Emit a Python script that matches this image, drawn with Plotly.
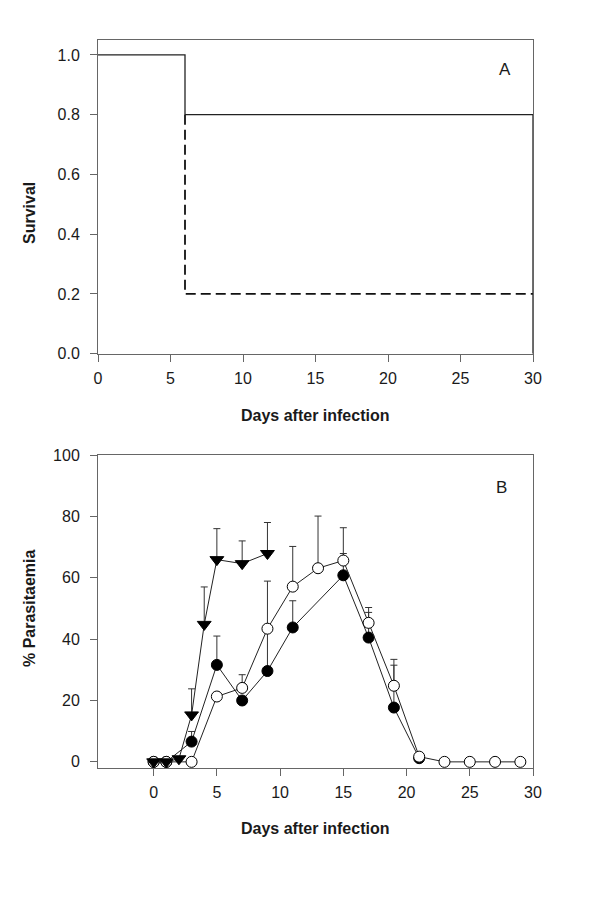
import plotly.graph_objects as go

# ---- Panel A: survival (Kaplan-Meier style steps)
surv_solid_x = [0, 6, 30, 30]
surv_solid_y = [1.0, 0.8, 0.8, 0.0]
surv_dash_x = [6, 6, 30]
surv_dash_y = [0.8, 0.2, 0.2]

# ---- Panel B: parasitaemia
tri_x = [0, 1, 2, 3, 4, 5, 7, 9]
tri_y = [0, 0, 1, 15.3, 44.8, 65.9, 64.6, 67.9]
tri_err = [None, None, None, 8.5, 12.2, 10.1, 7.4, 10.1]

filled_x = [0, 1, 3, 5, 7, 9, 11, 15, 17, 19, 21]
filled_y = [0, 0, 6.6, 31.6, 20.0, 29.6, 43.8, 60.8, 40.5, 17.7, 1.2]
filled_err = [None, None, 3.3, 9.4, None, 29.3, 8.7, 7.1, 8.2, 13.8, None]

open_x = [0, 1, 3, 5, 7, 9, 11, 13, 15, 17, 19, 21, 23, 25, 27, 29]
open_y = [0, 0, 0, 21.3, 24.1, 43.4, 57.1, 63.1, 65.6, 45.3, 24.8, 1.7, 0, 0, 0, 0]
open_err = [None, None, None, None, 4.3, None, 13.1, 17.0, 10.7, 5.0, 8.6, None, None, None, None, None]

x_ticks = [0, 5, 10, 15, 20, 25, 30]
ya_ticks = [0.0, 0.2, 0.4, 0.6, 0.8, 1.0]
yb_ticks = [0, 20, 40, 60, 80, 100]

FONT = "Liberation Sans, Arial, sans-serif"
AXC = "#666666"
TXT = "#1a1a1a"

def minus(errs):
    return [None if e is None else 0 for e in errs]

fig = go.Figure()

fig.add_trace(go.Scatter(x=surv_dash_x, y=surv_dash_y, mode="lines", line_shape="hv",
                         line=dict(color="#111111", width=1.8, dash="10px,5px"), xaxis="x", yaxis="y",
                         showlegend=False, hoverinfo="skip"))
fig.add_trace(go.Scatter(x=surv_solid_x, y=surv_solid_y, mode="lines", line_shape="hv",
                         line=dict(color="#222222", width=1.3), xaxis="x", yaxis="y",
                         showlegend=False, hoverinfo="skip"))

err_style = dict(type="data", symmetric=False, color="#333333", thickness=1, width=3.5)

fig.add_trace(go.Scatter(x=filled_x, y=filled_y, mode="lines+markers", xaxis="x2", yaxis="y2",
                         line=dict(color="#222222", width=1),
                         marker=dict(symbol="circle", size=11, color="black",
                                     line=dict(color="black", width=1)),
                         error_y=dict(array=filled_err, arrayminus=minus(filled_err), **err_style),
                         showlegend=False))
fig.add_trace(go.Scatter(x=open_x, y=open_y, mode="lines+markers", xaxis="x2", yaxis="y2",
                         line=dict(color="#222222", width=1),
                         marker=dict(symbol="circle", size=11, color="white",
                                     line=dict(color="black", width=1)),
                         error_y=dict(array=open_err, arrayminus=minus(open_err), **err_style),
                         showlegend=False))
fig.add_trace(go.Scatter(x=tri_x, y=tri_y, mode="lines+markers", xaxis="x2", yaxis="y2",
                         line=dict(color="#222222", width=1),
                         marker=dict(symbol="triangle-down", size=12, color="black",
                                     line=dict(color="black", width=1)),
                         error_y=dict(array=tri_err, arrayminus=minus(tri_err), **err_style),
                         showlegend=False))

axis_common = dict(showline=True, linecolor=AXC, linewidth=1, mirror=True,
                   ticks="outside", ticklen=7, tickcolor=AXC, tickwidth=1,
                   showgrid=False, zeroline=False, automargin=False,
                   tickfont=dict(family=FONT, size=16, color=TXT))

def ann(text, px, py, size=16, angle=0):
    return dict(text=text, x=px/600, y=1-py/900, xref="paper", yref="paper",
                xanchor="center", yanchor="middle", showarrow=False, textangle=angle,
                font=dict(family=FONT, size=size, color=TXT))

fig.update_layout(
    width=600, height=900,
    margin=dict(l=0, r=0, t=0, b=0),
    paper_bgcolor="white", plot_bgcolor="white",
    font=dict(family=FONT, size=14, color=TXT),
    xaxis=dict(domain=[98/600, 533/600], range=[0, 30], tickvals=x_ticks,
               anchor="y", ticklabelstandoff=3, **axis_common),
    yaxis=dict(domain=[(900-353.7)/900, (900-40)/900], range=[0, 1.05], tickvals=ya_ticks,
               tickformat=".1f", anchor="x", ticklabelstandoff=7, **axis_common),
    xaxis2=dict(domain=[98/600, 533/600], range=[-4.4, 30], tickvals=x_ticks,
                anchor="y2", ticklabelstandoff=3, **axis_common),
    yaxis2=dict(domain=[(900-768)/900, (900-455)/900], range=[-2, 100], tickvals=yb_ticks,
                anchor="x2", ticklabelstandoff=7, **axis_common),
    annotations=[
        ann("A", 505, 69, size=17),
        ann("B", 501, 487, size=17),
        ann("<b>Survival</b>", 29, 213, angle=-90),
        ann("<b>% Parasitaemia</b>", 29, 608, angle=-90),
        ann("<b>Days after infection</b>", 315, 415),
        ann("<b>Days after infection</b>", 315, 828),
    ],
)

fig.write_html("out.html", config={"displayModeBar": False},
               post_script="document.body.style.margin='0px';document.body.style.padding='0px';")
